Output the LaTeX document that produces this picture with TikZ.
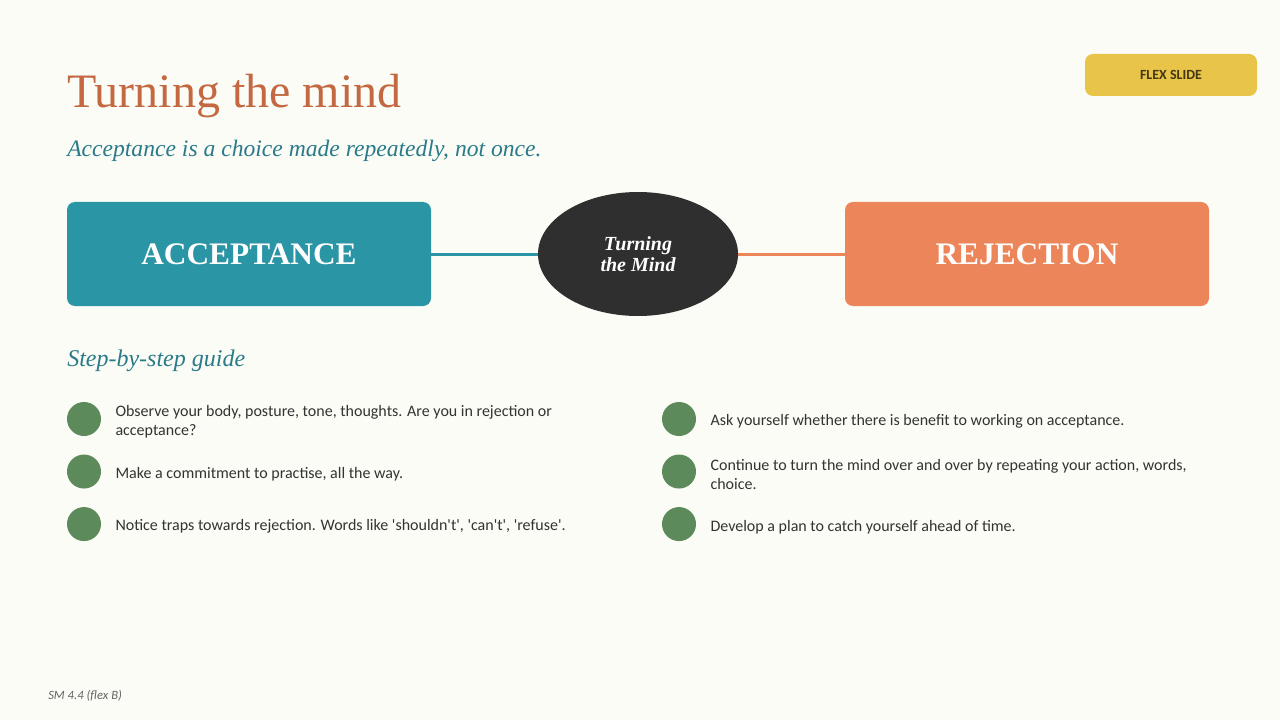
\documentclass[tikz,border=0pt]{standalone}
\usepackage{fontspec}
\setmainfont{Liberation Serif}
\newfontfamily\bodyfont{Carlito}
\usepackage{xcolor}
\usepackage{tikz}
\usetikzlibrary{shapes.geometric, positioning}
\definecolor{bgcream}{RGB}{250,252,245}
\definecolor{titlerust}{RGB}{196,104,66}
\definecolor{subteal}{RGB}{42,122,138}
\definecolor{accteal}{RGB}{42,149,164}
\definecolor{rejorange}{RGB}{236,134,90}
\definecolor{mindgray}{RGB}{47,47,47}
\definecolor{dotgreen}{RGB}{92,138,90}
\definecolor{flexgold}{RGB}{232,197,72}
\definecolor{flextext}{RGB}{70,55,20}
\definecolor{bodygray}{RGB}{51,51,51}
\definecolor{footgray}{RGB}{100,100,100}

\begin{document}
\begin{tikzpicture}[
    x=0.75pt, y=-0.75pt,
    node distance=13.5pt and 10.5pt,
    bigbox/.style={rectangle, rounded corners=6pt, minimum width=273pt, minimum height=78pt, text=white, font=\fontsize{23.5}{26}\selectfont\bfseries},
    mindnode/.style={ellipse, fill=mindgray, minimum width=150pt, minimum height=93pt, inner sep=0pt, text=white, align=center, font=\fontsize{15}{16}\selectfont\bfseries\itshape},
    dot/.style={circle, fill=dotgreen, minimum size=25.5pt, inner sep=0pt},
    steptext/.style={inner sep=0pt, yshift=-2pt, align=left, text=bodygray, font=\bodyfont\fontsize{12}{14.3}\selectfont},
    heading/.style={inner sep=0pt, anchor=base west, text=subteal, font=\fontsize{18}{20}\selectfont\itshape},
    link/.style={line width=2.25pt},
]
\useasboundingbox[fill=bgcream] (0,0) rectangle (1280,720);

% Title and badge
\node[inner sep=0pt, anchor=base west, text=titlerust, font=\fontsize{36}{40}\selectfont] (title) at (67,108) {Turning the mind};
\node[heading, font=\fontsize{17.7}{20}\selectfont\itshape] (subtitle) at (67,157) {Acceptance is a choice made repeatedly, not once.};
\node[rectangle, rounded corners=6pt, fill=flexgold, minimum width=129pt, minimum height=31.5pt, text=flextext, font=\bodyfont\fontsize{10.5}{11}\selectfont\bfseries] (flex) at (1171,75) {FLEX SLIDE};

% Row 1: the two choices
\node[bigbox, fill=accteal] (accept) at (249,254) {ACCEPTANCE};
\node[mindnode] (mind) at (638,254) {Turning\\the Mind};
\node[bigbox, fill=rejorange] (reject) at (1027,254) {REJECTION};

\draw[link, draw=accteal] (accept) -- (mind);
\draw[link, draw=rejorange] (mind) -- (reject);

% Step-by-step guide
\node[heading] (guide) at (67,366) {Step-by-step guide};

\node[dot] (dot1) at (84,419) {};
\node[dot, below=of dot1] (dot2) {};
\node[dot, below=of dot2] (dot3) {};
\node[dot] (dot4) at (679,419) {};
\node[dot, below=of dot4] (dot5) {};
\node[dot, below=of dot5] (dot6) {};

\node[steptext, right=of dot1] (step1) {Observe your body, posture, tone, thoughts. Are you in rejection or\\acceptance?};
\node[steptext, right=of dot2] (step2) {Make a commitment to practise, all the way.};
\node[steptext, right=of dot3] (step3) {Notice traps towards rejection. Words like 'shouldn't', 'can't', 'refuse'.};
\node[steptext, right=of dot4] (step4) {Ask yourself whether there is benefit to working on acceptance.};
\node[steptext, right=of dot5] (step5) {Continue to turn the mind over and over by repeating your action, words,\\choice.};
\node[steptext, right=of dot6] (step6) {Develop a plan to catch yourself ahead of time.};

% Footer
\node[inner sep=0pt, anchor=base west, text=footgray, font=\bodyfont\fontsize{9.5}{11}\selectfont\itshape] (footer) at (48,699) {SM 4.4 (flex B)};

\end{tikzpicture}
\end{document}
